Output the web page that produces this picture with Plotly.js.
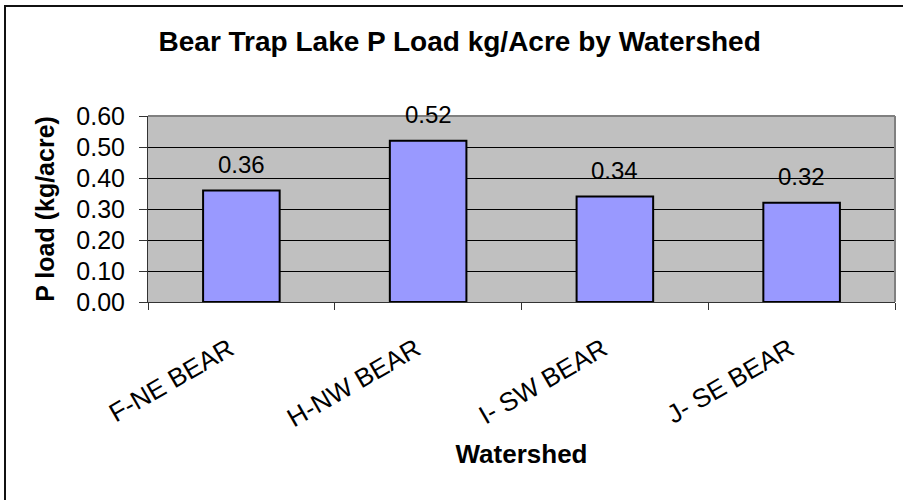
<!DOCTYPE html>
<html>
<head>
<meta charset="utf-8">
<script src="https://cdn.plot.ly/plotly-3.0.1.min.js"></script>
<style>
html,body{margin:0;padding:0;background:#fff;}
#wrap{position:relative;width:903px;height:500px;overflow:hidden;}
#chart{width:903px;height:500px;}
#frame{position:absolute;left:4px;top:5px;width:2000px;height:2000px;border-left:2px solid #111;border-top:2px solid #111;pointer-events:none;}
</style>
</head>
<body>
<div id="wrap"><div id="chart"></div><div id="frame"></div></div>
<script>
const categories = ["F-NE BEAR", "H-NW BEAR", "I- SW BEAR", "J- SE BEAR"];
const pLoad = [0.36, 0.52, 0.34, 0.32];
const yTickVals = [0, 0.1, 0.2, 0.3, 0.4, 0.5, 0.6];
const yTickText = ["0.00", "0.10", "0.20", "0.30", "0.40", "0.50", "0.60"];

const FONT = "Liberation Sans, Arial, sans-serif";

const trace = {
  type: "bar",
  x: categories,
  y: pLoad,
  marker: { color: "#9999ff", line: { color: "#000000", width: 2 } },
  hoverinfo: "none"
};

const annotations = categories.map((c, i) => ({
  x: c, y: pLoad[i], xref: "x", yref: "y",
  text: pLoad[i].toFixed(2),
  showarrow: false, yanchor: "middle", yshift: 26,
  font: { family: FONT, size: 24, color: "#000" }
}));

const layout = {
  width: 903, height: 500,
  margin: { l: 148, r: 8, t: 116, b: 198 },
  paper_bgcolor: "#ffffff",
  plot_bgcolor: "#c0c0c0",
  showlegend: false,
  bargap: 0.59,
  font: { family: FONT, color: "#000" },
  title: {
    text: "<b>Bear Trap Lake P Load kg/Acre by Watershed</b>",
    font: { family: FONT, size: 28, color: "#000" },
    xref: "container", x: 0.509, xanchor: "center",
    yref: "container", y: 0.917, yanchor: "middle"
  },
  xaxis: {
    type: "category",
    tickangle: -30,
    tickson: "boundaries",
    ticks: "outside", ticklen: 7, tickcolor: "#333", tickwidth: 1,
    showline: true, linecolor: "#333", linewidth: 1,
    showgrid: false,
    tickfont: { family: FONT, size: 26, color: "#000" },
    ticklabelstandoff: 21,
    ticklabelshift: -12,
    automargin: false,
    title: {
      text: "<b>Watershed</b>",
      font: { family: FONT, size: 26, color: "#000" },
      standoff: 12
    }
  },
  yaxis: {
    range: [0, 0.6],
    tickvals: yTickVals, ticktext: yTickText,
    ticks: "outside", ticklen: 8, tickcolor: "#333", tickwidth: 1,
    showline: true, linecolor: "#333", linewidth: 1,
    showgrid: true, gridcolor: "#000000", gridwidth: 1,
    zeroline: false,
    tickfont: { family: FONT, size: 25, color: "#000" },
    ticklabelstandoff: 9,
    automargin: false,
    title: {
      text: "<b>P load (kg/acre)</b>",
      font: { family: FONT, size: 25, color: "#000" },
      standoff: 14
    }
  },
  shapes: [
    { type: "line", xref: "paper", yref: "paper", x0: 0, x1: 1, y0: 1, y1: 1, line: { color: "#808080", width: 2 } },
    { type: "line", xref: "paper", yref: "paper", x0: 1, x1: 1, y0: 0, y1: 1, line: { color: "#808080", width: 2 } }
  ],
  annotations: annotations
};

Plotly.newPlot("chart", [trace], layout, { displayModeBar: false, staticPlot: true });
</script>
</body>
</html>
